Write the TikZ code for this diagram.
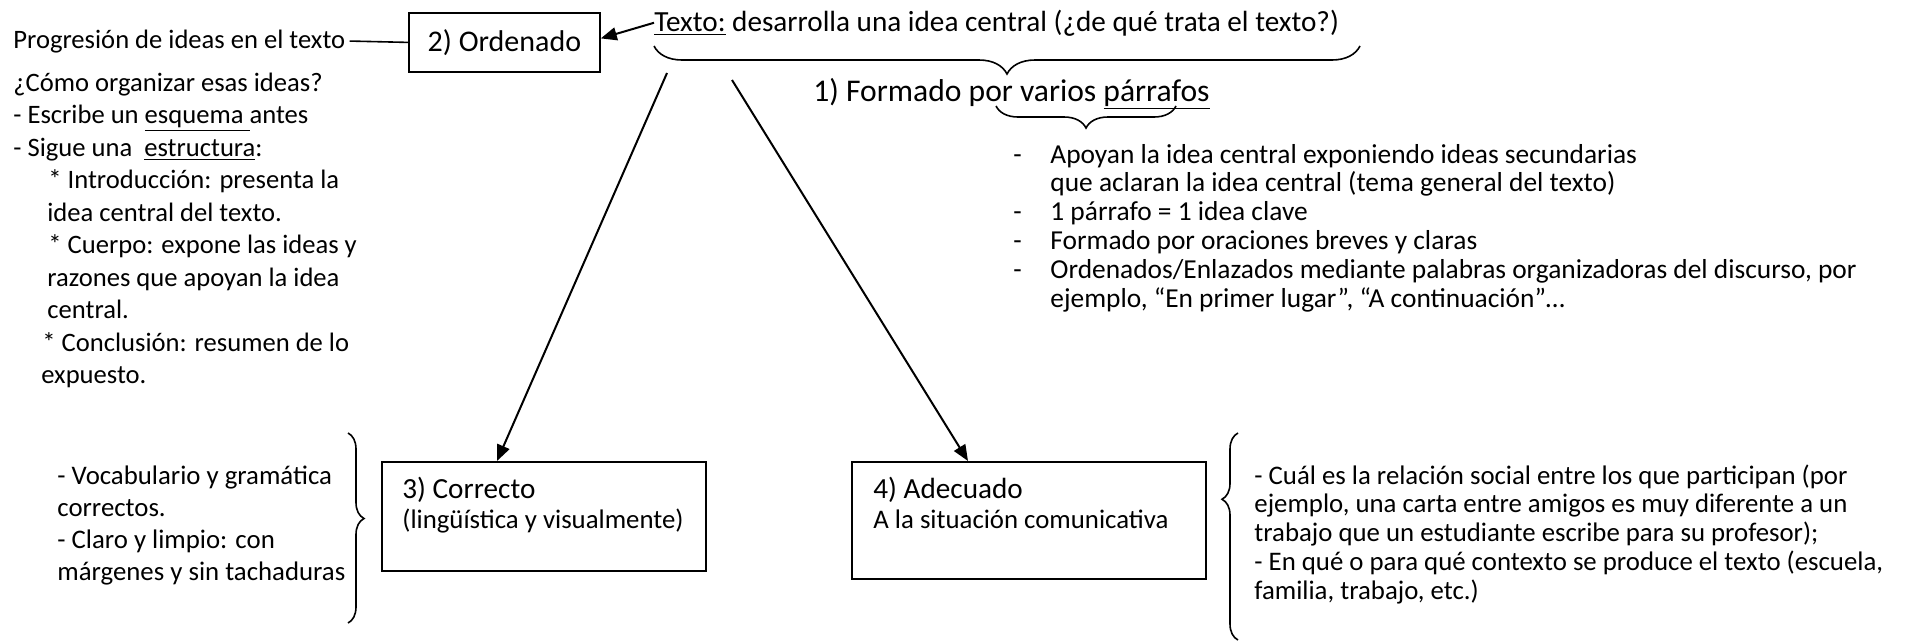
\documentclass[tikz,border=0pt]{standalone}
\usepackage{fontspec}
\setmainfont{Carlito}
\usetikzlibrary{positioning, arrows.meta, decorations.pathreplacing}

\newcommand\fizq{\fontsize{13.3}{16.25pt}\selectfont}
\newcommand\fmed{\fontsize{13.4}{14.4pt}\selectfont}
\newcommand\fgra{\fontsize{14.6}{16pt}\selectfont}
\newcommand\lineas[1]{\begin{tabular}[t]{@{}l@{}}#1\end{tabular}}

\begin{document}
\begin{tikzpicture}[x=0.5pt,y=-0.5pt,
  caja/.style={rectangle,draw,line width=0.9pt,anchor=north west,inner sep=0pt},
  txt/.style={anchor=base west,inner sep=0pt,align=left},
  flecha/.style={line width=1pt,-{Triangle[length=8pt,width=6.5pt]}},
  llave/.style={decorate,decoration={brace,amplitude=#1},line width=0.8pt}]
  \useasboundingbox (0,0) rectangle (1909,643);

  % parte de arriba
  \node at (654,31) [txt,font=\fgra] (t) {\underline{Texto:} desarrolla una idea central (¿de qué trata el texto?)};
  \node at (408,12) [caja,minimum width=95.5pt,minimum height=29.5pt,font=\fontsize{15}{16}\selectfont] (b2) {2) Ordenado};
  \node at (13,48) [txt,font=\fizq] (prog) {Progresión de ideas en el texto};
  \draw[line width=0.8pt] ([xshift=2pt]prog.east) -- (b2.west);
  \draw[flecha] (t.west) -- ([yshift=2pt]b2.east);

  \draw[llave=14pt] (1360,46) -- (654,46);
  \node at (813,101) [txt,font=\fontsize{15.8}{17}\selectfont] (f) {1) Formado por varios \underline{párrafos}};
  \draw[llave=11pt] (1176,106) -- (996,106);

  % lista de los parrafos
  \node at (1013,163) [txt,font=\fontsize{13.7}{14.4pt}\selectfont] (lista) {%
    \begin{tabular}[t]{@{}p{18.5pt}@{}l@{}}
    - & Apoyan la idea central exponiendo ideas secundarias\\
      & que aclaran la idea central (tema general del texto)\\
    - & 1 párrafo = 1 idea clave\\
    - & Formado por oraciones breves y claras\\
    - & Ordenados/Enlazados mediante palabras organizadoras del discurso, por\\
      & ejemplo, “En primer lugar”, “A continuación”…
    \end{tabular}};

  % ordenado: a la izquierda
  \node at (13,91) [txt,font=\fizq] (org) {\lineas{¿Cómo organizar esas ideas?\\
    - Escribe un \underline{esquema\ }antes\\
    - Sigue una\ \ \underline{estructura}:\\
    \hspace*{17.5pt}* Introducción: presenta la\\
    \hspace*{17pt}idea central del texto.\\
    \hspace*{17.5pt}* Cuerpo: expone las ideas y\\
    \hspace*{17pt}razones que apoyan la idea\\
    \hspace*{17pt}central.\\
    \hspace*{14.5pt}* Conclusión: resumen de lo\\
    \hspace*{14pt}expuesto.}};

  % correcto y adecuado
  \node at (381,461) [caja,minimum width=162pt,minimum height=54.5pt] (b3) {};
  \node at (402,498) [txt,font=\fgra] (b3a) {3) Correcto};
  \node at (402,528) [txt,font=\fmed] (b3b) {(lingüística y visualmente)};
  \node at (851,461) [caja,minimum width=177pt,minimum height=58.5pt] (b4) {};
  \node at (873,498) [txt,font=\fgra] (b4a) {4) Adecuado};
  \node at (873,528) [txt,font=\fmed] (b4b) {A la situación comunicativa};

  \coordinate (s3) at (667,73);
  \coordinate (s4) at (732,80);
  \draw[flecha] (s3) -- ([xshift=58pt]b3.north west);
  \draw[flecha] (s4) -- ([xshift=58.5pt]b4.north west);

  \draw[llave=8pt,decoration={aspect=0.45}] (348,433) -- (348,623);
  \node at (57,484) [txt,font=\fontsize{13.4}{16pt}\selectfont] (corr) {\lineas{- Vocabulario y gramática\\
    correctos.\\
    - Claro y limpio: con\\
    márgenes y sin tachaduras}};

  \draw[llave=8pt,decoration={aspect=0.68}] (1238,640) -- (1238,433);
  \node at (1254,484) [txt,font=\fmed] (adec) {\lineas{- Cuál es la relación social entre los que participan (por\\
    ejemplo, una carta entre amigos es muy diferente a un\\
    trabajo que un estudiante escribe para su profesor);\\
    - En qué o para qué contexto se produce el texto (escuela,\\
    familia, trabajo, etc.)}};
\end{tikzpicture}
\end{document}
